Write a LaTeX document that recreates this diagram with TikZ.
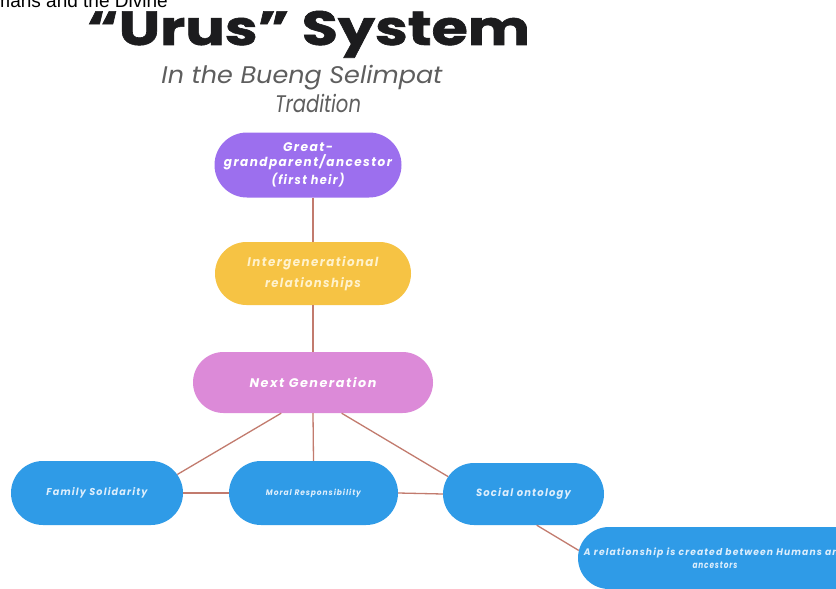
\documentclass[tikz,border=0pt]{standalone}
\usepackage{fontspec}
\setmainfont{Liberation Sans}
\newfontfamily\pop{Poppins}
\newfontfamily\popls{Poppins}[LetterSpace=12]
\newfontfamily\poptitle{Poppins}[FakeBold=1.2]
\usetikzlibrary{shapes.misc}
\definecolor{purp}{HTML}{9C6FEE}
\definecolor{yell}{HTML}{F6C344}
\definecolor{pinkc}{HTML}{DC8AD8}
\definecolor{bluec}{HTML}{2F9BE7}
\definecolor{linec}{HTML}{C27B6E}
\definecolor{subg}{HTML}{5E5E5E}
\definecolor{titlec}{HTML}{1C1C1E}
\definecolor{paley}{HTML}{FFF2CC}
\definecolor{paleb}{HTML}{DDEEFC}
\newcommand\lw[2]{\resizebox{#1}{\height}{#2}}
\begin{document}
\begin{tikzpicture}[x=1pt,y=-1pt,
  box/.style={rounded rectangle, inner sep=0pt, align=center, text=white},
  bf/.style={font=\popls\bfseries\itshape\fontsize{#1}{#1}\selectfont},
  conn/.style={draw=linec, line width=1.3pt}]
\useasboundingbox (0,0) rectangle (836,589);
\clip (0,0) rectangle (836,589);
\fill[white] (0,0) rectangle (836,589);

% clipped line at the very top
\node[anchor=base west, inner sep=0pt, font=\fontsize{19}{19}\selectfont] (cut) at (-30,7) {Humans and the Divine};

% title
\node[anchor=base, inner sep=0pt, text=titlec] (title) at (308.5,45)
  {\lw{443pt}{\poptitle\bfseries\fontsize{48}{48}\selectfont “Urus” System}};
\node[anchor=base, inner sep=0pt, text=subg] (sub1) at (302,83)
  {\lw{281pt}{\pop\itshape\fontsize{24}{24}\selectfont In the Bueng Selimpat}};
\node[anchor=base, inner sep=0pt, text=subg] (sub2) at (318,112)
  {\lw{86pt}{\pop\itshape\fontsize{24}{24}\selectfont Tradition}};

% nodes
\node[box, fill=purp, minimum width=187pt, minimum height=65pt, bf=12.5] (anc) at (308,165)
  {\lw{50pt}{Great-}\\[2.5pt]\lw{168pt}{grandparent/ancestor}\\[2.5pt]\lw{73pt}{(first heir)}};
\node[box, fill=yell, text=paley, minimum width=196pt, minimum height=63pt, bf=12.5] (inter) at (313,273.5)
  {\lw{131pt}{Intergenerational}\\[6.5pt]\lw{96pt}{relationships}};
\node[box, fill=pinkc, minimum width=240pt, minimum height=61pt, bf=12.5] (next) at (313,382.5)
  {\lw{127pt}{Next Generation}};
\node[box, fill=bluec, text=paleb, minimum width=172pt, minimum height=64pt, bf=10] (fam) at (97,493)
  {\lw{101pt}{Family Solidarity}};
\node[box, fill=bluec, text=paleb, minimum width=169pt, minimum height=64pt, bf=8] (moral) at (313.5,493)
  {\lw{95pt}{Moral Responsibility}};
\node[box, fill=bluec, text=paleb, minimum width=161pt, minimum height=62pt, bf=10.5] (soc) at (523.5,494)
  {\lw{95pt}{Social ontology}};
\node[box, fill=bluec, text=paleb, minimum width=290pt, minimum height=62pt] (rel) at (723,558)
  {};
\node[inner sep=0pt, align=center, text=paleb, bf=9.5] (reltext) at (715,558)
  {\lw{262pt}{A relationship is created between Humans and}\\[3pt]\lw{45pt}{ancestors}};

% connectors
\draw[conn] (inter.north |- anc.south) -- (inter.north);
\draw[conn] (inter.south) -- (next.north);
\draw[conn] (next.224) -- (fam.13);
\draw[conn] (next.south) -- (moral.north);
\draw[conn] (next.313) -- (soc.167);
\draw[conn] (fam.east) -- (moral.west);
\draw[conn] (moral.east) -- (soc.west);
\draw[conn] (soc.293) -- (rel.177);
\end{tikzpicture}
\end{document}
